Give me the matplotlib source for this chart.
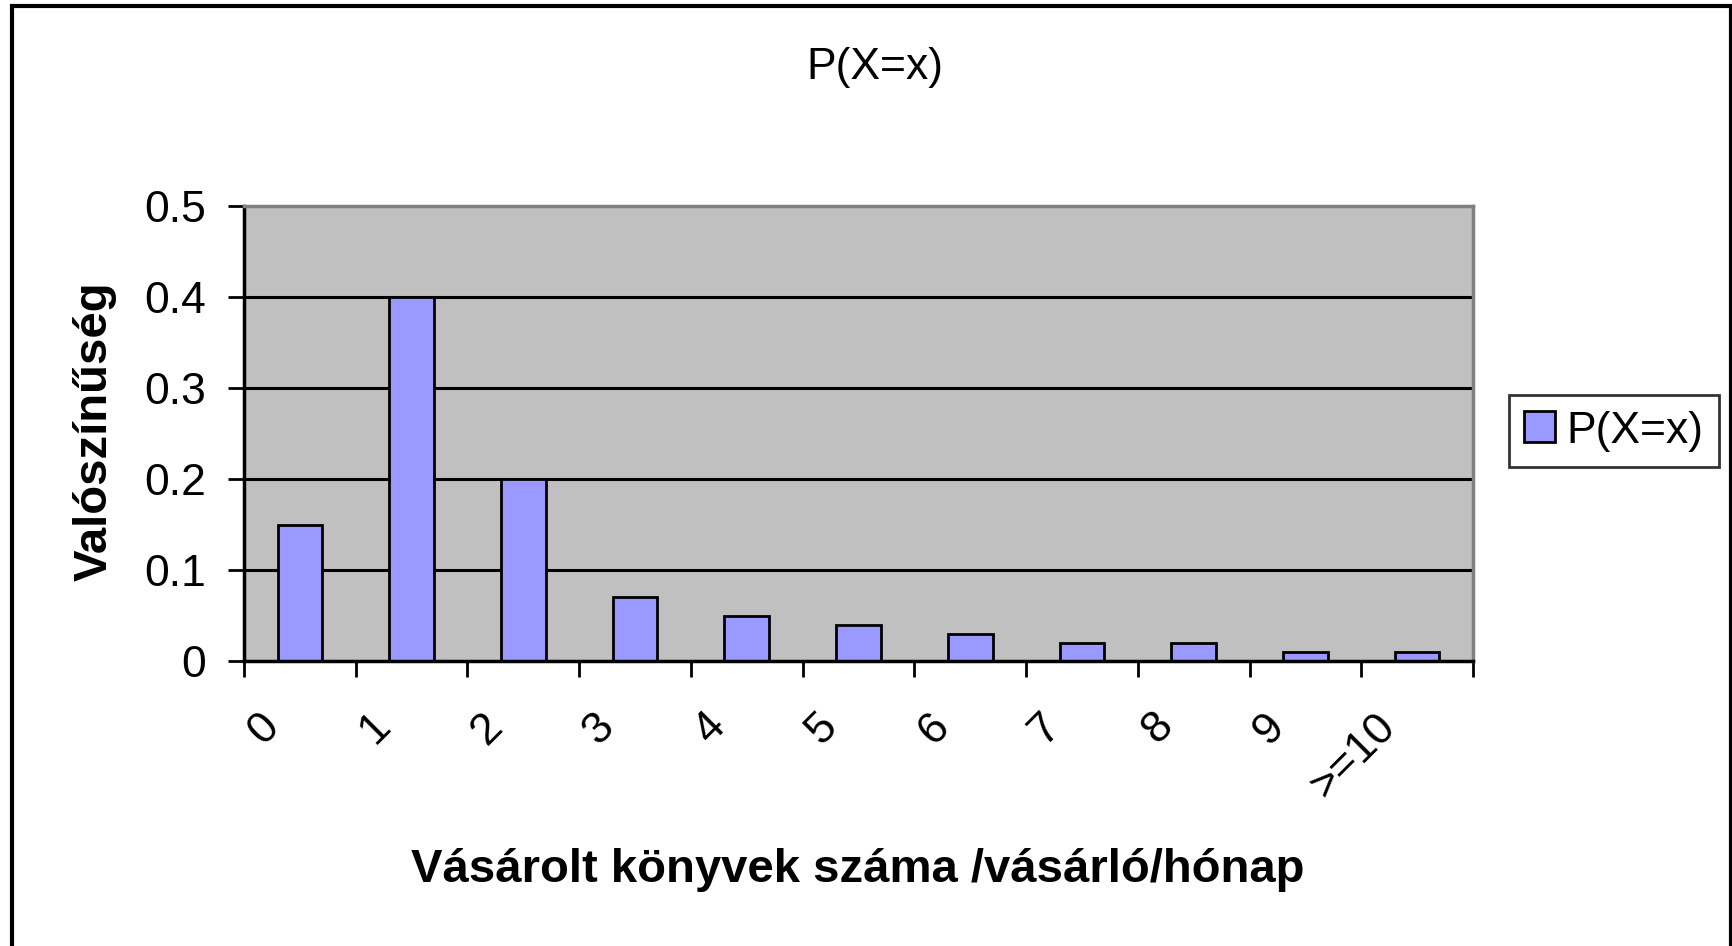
import matplotlib
matplotlib.use("Agg")
import matplotlib.pyplot as plt
import matplotlib.transforms as mtransforms
from matplotlib.patches import Rectangle
import numpy as np

plt.rcParams['font.family'] = ['Liberation Sans', 'DejaVu Sans']

categories = ["0", "1", "2", "3", "4", "5", "6", "7", "8", "9", ">=10"]
probabilities = [0.15, 0.40, 0.20, 0.07, 0.05, 0.04, 0.03, 0.02, 0.02, 0.01, 0.01]
yticks = [0, 0.1, 0.2, 0.3, 0.4, 0.5]
ytick_labels = ["0", "0.1", "0.2", "0.3", "0.4", "0.5"]
title = "P(X=x)"
series_name = "P(X=x)"
xlabel = "Vásárolt könyvek száma /vásárló/hónap"
ylabel = "Valószínűség"

W, H = 1733, 946
fig = plt.figure(figsize=(W / 100, H / 100), dpi=100)

# outer chart border
fig.patches.append(Rectangle((12 / W, -0.05), (1731 - 12) / W, 1.05 - 6 / H,
                             transform=fig.transFigure, fill=False,
                             edgecolor='black', linewidth=3, zorder=0))

ax = fig.add_axes([244 / W, 1 - 661 / H, (1473 - 244) / W, (661 - 206) / H])
ax.set_facecolor('#C0C0C0')

x = np.arange(len(categories))
ax.bar(x, probabilities, width=0.4, color='#9999FF', edgecolor='black',
       linewidth=2.0, zorder=3, label=series_name)

ax.set_xlim(-0.5, len(categories) - 0.5)
ax.set_ylim(0, 0.5)

for v in yticks[1:-1]:
    ax.axhline(v, color='black', linewidth=2.2, zorder=2)

ax.set_yticks(yticks)
ax.set_yticklabels(ytick_labels, fontsize=32)
ax.tick_params(axis='y', direction='out', length=11.5, width=2, pad=16)

ax.set_xticks(x)
ax.set_xticklabels(categories, fontsize=32, rotation=45, ha='right', va='top')
ax.set_xticks(np.arange(-0.5, len(categories)), minor=True)
ax.tick_params(axis='x', which='major', length=0, pad=32)
ax.tick_params(axis='x', which='minor', direction='out', length=11.5, width=2)
offset = mtransforms.ScaledTranslation(-13 / 100, 0, fig.dpi_scale_trans)
for lab in ax.get_xticklabels():
    lab.set_transform(lab.get_transform() + offset)

for s in ['left', 'bottom']:
    ax.spines[s].set_color('black')
    ax.spines[s].set_linewidth(2.5)
for s in ['top', 'right']:
    ax.spines[s].set_color('#808080')
    ax.spines[s].set_linewidth(2.5)
for s in ax.spines.values():
    s.set_zorder(4)

fig.text(875 / W, 1 - 68 / H, title, fontsize=32, ha='center', va='center')
fig.text(858 / W, 1 - 870 / H, xlabel, fontsize=34, fontweight='bold',
         ha='center', va='center')
fig.text(95 / W, 1 - 431 / H, ylabel, fontsize=34, fontweight='bold',
         ha='center', va='center', rotation=90)

leg = fig.legend(loc='center', bbox_to_anchor=(1614 / W, 1 - 431 / H),
                 fontsize=32, frameon=True, fancybox=False, handlelength=0.7,
                 handleheight=0.7, handletextpad=0.25, borderpad=0.35,
                 borderaxespad=0)
leg.get_frame().set_edgecolor('black')
leg.get_frame().set_linewidth(2)

fig.savefig('out.png', dpi=100)
